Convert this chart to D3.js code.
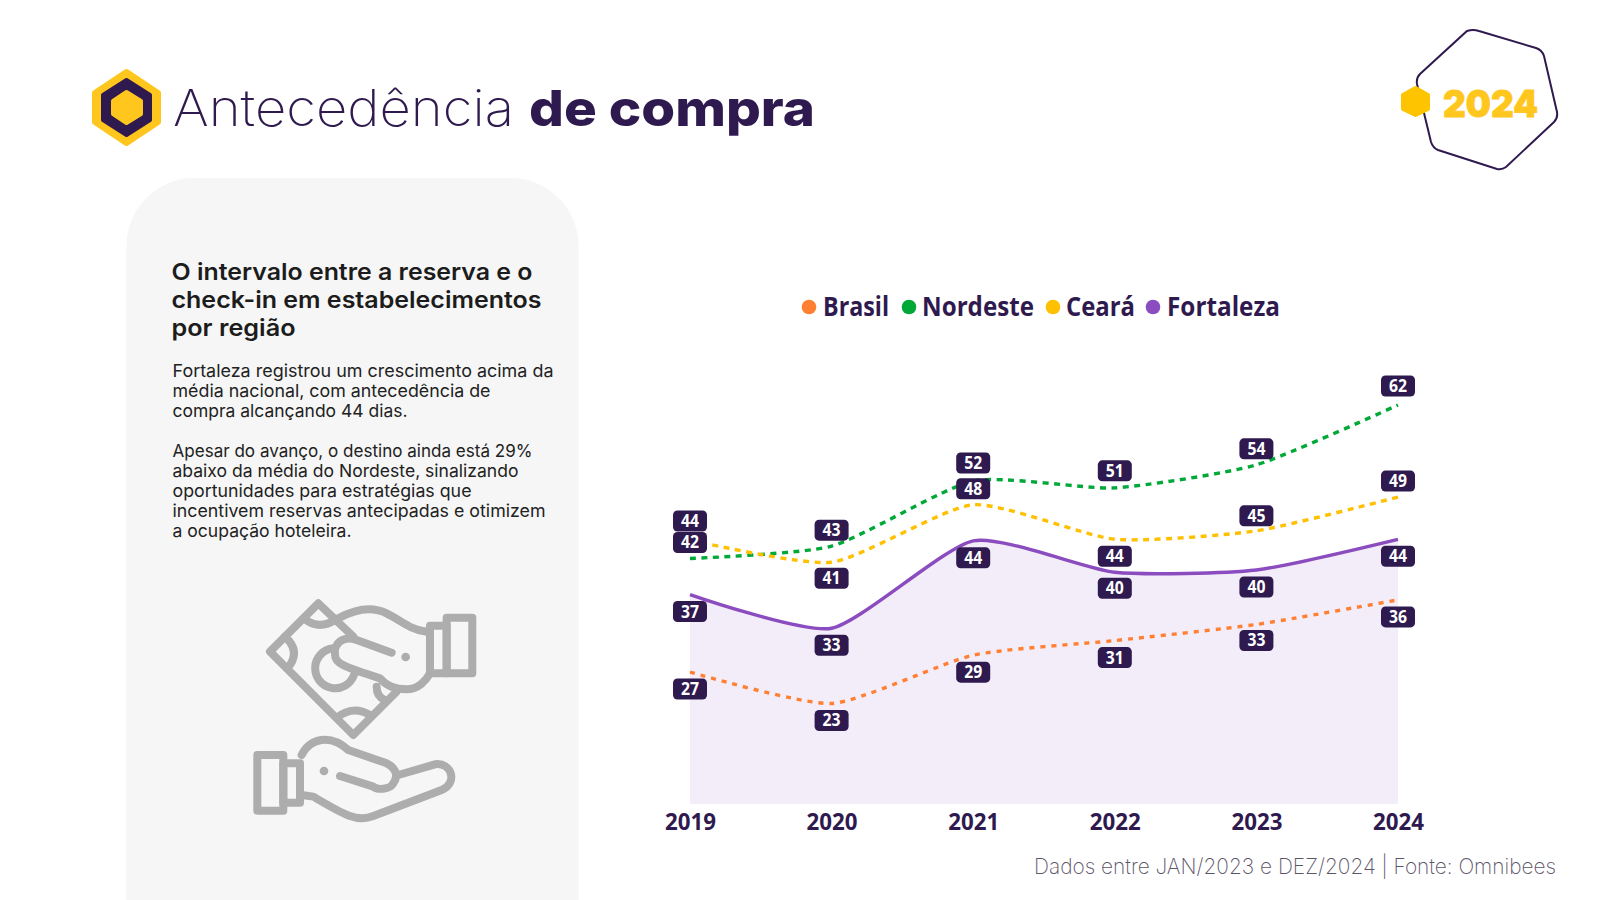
<!DOCTYPE html>
<html lang="pt-BR"><head><meta charset="utf-8">
<script src="https://cdn.jsdelivr.net/npm/d3@7/dist/d3.min.js"></script>
<style>html,body{margin:0;background:#fff;overflow:hidden}svg{display:block}</style>
</head><body><svg id="c" width="1600" height="900" xmlns="http://www.w3.org/2000/svg"></svg>
<script>
// ---- data ----
const years = ["2019","2020","2021","2022","2023","2024"];
const brasil    = [27.2,23.1,29.4,31.3,33.4,36.6];
const nordeste  = [42.0,43.6,52.1,51.2,54.2,62.0];
const ceara     = [44.4,41.5,49.0,44.5,45.6,50.0];
const fortaleza = [37.3,32.9,44.3,40.2,40.5,44.5];
const brasilLabels    = [27,23,29,31,33,36];
const nordesteLabels  = [42,43,52,51,54,62];
const cearaLabels     = [44,41,48,44,45,49];
const fortalezaLabels = [37,33,44,40,40,44];
const legendNames = ["Brasil","Nordeste","Ceará","Fortaleza"];
const headingLines = ["O intervalo entre a reserva e o","check-in em estabelecimentos","por região"];
const bodyLines = ["Fortaleza registrou um crescimento acima da","média nacional, com antecedência de","compra alcançando 44 dias.","",
 "Apesar do avanço, o destino ainda está 29%","abaixo da média do Nordeste, sinalizando","oportunidades para estratégias que","incentivem reservas antecipadas e otimizem","a ocupação hoteleira."];
const source = "Dados entre JAN/2023 e DEZ/2024 | Fonte: Omnibees";

// ---- layout ----
const DARK="#2f1a4f", YEL="#ffc61e", LABELFONT="'Open Sans',sans-serif", MAIN="Inter,sans-serif";
const headingW=[361,370,124];
const bodyW=[381,318,235,0,360,346,299,373,179];
const legendX=[{dot:809,t:823,w:66},{dot:909,t:922,w:112},{dot:1053,t:1066,w:69},{dot:1153,t:1167,w:113}];
const svg=d3.select("#c");
const fit=(sel,w)=>sel.attr("textLength",w).attr("lengthAdjust","spacingAndGlyphs");

// panel
svg.append("rect").attr("x",126.5).attr("y",178).attr("width",452).attr("height",900).attr("rx",68).attr("fill","#f6f6f6");

// logo
const hex=(pts,fill,sw=4)=>svg.append("polygon").attr("points",pts.map(p=>p.join(",")).join(" ")).attr("fill",fill).attr("stroke",fill).attr("stroke-width",sw).attr("stroke-linejoin","round");
hex([[126.5,72],[158,93],[158,122],[126.5,143],[95,122],[95,93]],YEL,6);
hex([[126.5,80],[150,95],[150,120],[126.5,135],[103,120],[103,95]],DARK);
hex([[126.5,92],[141,101],[141,114],[126.5,123],[113,114],[113,101]],YEL);

// title
fit(svg.append("text").attr("x",173).attr("y",126).attr("font-family",MAIN).attr("font-weight",200).attr("font-size",50).attr("fill",DARK).text("Antecedência"),341);
fit(svg.append("text").attr("x",529).attr("y",126).attr("font-family",MAIN).attr("font-weight",800).attr("font-size",50).attr("fill",DARK).text("de compra"),286);

// year badge
svg.append("path").attr("d","M1467,31 Q1473,29 1479,31 L1536,48 Q1542,50 1544,56 L1557,112 Q1558,118 1554,122 L1506,167 Q1502,170 1497,169 L1438,150 Q1433,148 1431,142 L1417,84 Q1416,78 1420,74 Z").attr("fill","#fff").attr("stroke",DARK).attr("stroke-width",2);
hex([[1415.5,88],[1428,95],[1428,109],[1415.5,115],[1403,109],[1403,95]],"#ffc400");
fit(svg.append("text").attr("x",1443).attr("y",117).attr("font-family",MAIN).attr("font-weight",900).attr("font-size",37).attr("fill",YEL).attr("stroke",YEL).attr("stroke-width",0.8).text("2024"),95);

// panel text
headingLines.forEach((s,i)=>fit(svg.append("text").attr("x",171.5).attr("y",280+i*28).attr("font-family",MAIN).attr("font-weight",600).attr("font-size",23.5).attr("fill","#1c1c1c").text(s),headingW[i]));
bodyLines.forEach((s,i)=>{ if(!s) return; fit(svg.append("text").attr("x",172.5).attr("y",377+i*20).attr("font-family",MAIN).attr("font-weight",400).attr("font-size",17.5).attr("fill","#222").text(s),bodyW[i]);});

// hands icon
const ic=svg.append("g").attr("transform","translate(230,580) scale(0.3333)").attr("fill","none").attr("stroke","#adadad").attr("stroke-width",24).attr("stroke-linecap","round").attr("stroke-linejoin","round");
["M370,170 L265,70 L120,215 L370,465 L500,335",
 "M228,120 Q270,150 318,118","M165,170 Q210,210 180,255","M322,412 Q370,375 420,405","M440,320 Q440,350 465,360",
 "M310,205 A60,60 0 1 0 372,285",
 "M325,115 C380,85 430,80 470,100 C510,120 540,150 590,155",
 "M485,218 L380,180 C340,165 310,190 315,225 C315,250 340,260 450,295 C470,320 500,328 530,328 C565,328 590,300 600,280",
 "M600,137 H650 V280 H600 Z","M650,113 H727 V280 H650 Z",
 "M82,525 H160 V692 H82 Z","M160,550 H210 V668 H160 Z",
 "M215,525 C240,475 300,460 355,510 L470,550 C500,565 505,590 490,610 C480,630 440,630 430,620 L330,588",
 "M505,585 L615,553 C665,545 685,610 635,630 L430,708 C380,728 340,703 250,650 L215,645"
].forEach(d=>ic.append("path").attr("d",d));
[[527,231],[282,573]].forEach(p=>ic.append("circle").attr("cx",p[0]).attr("cy",p[1]).attr("r",13).attr("fill","#adadad").attr("stroke","none"));

// chart
const x=d3.scalePoint().domain(years).range([690,1398]);
const y=d3.scaleLinear().domain([10,62]).range([804,405]);
const curve=d3.curveCardinal.tension(0.4);
const line=d3.line().x((d,i)=>x(years[i])).y(d=>y(d)).curve(curve);
const area=d3.area().x((d,i)=>x(years[i])).y0(y(10)).y1(d=>y(d)).curve(curve);
svg.append("path").attr("d",area(fortaleza)).attr("fill","#f3edf9");
const series=[
 {v:brasil,l:brasilLabels,c:"#ff8033",dash:"5 6",off:[17,17,17,17,16,17]},
 {v:nordeste,l:nordesteLabels,c:"#00a838",dash:"6 5.5",off:[-16,-16,-18,-17,-16,-19]},
 {v:ceara,l:cearaLabels,c:"#ffc000",dash:"6 5.5",off:[-19,16,-16,17,-15,-16]},
 {v:fortaleza,l:fortalezaLabels,c:"#8b4cbf",dash:null,off:[17,17,17,16,17,17]}];
series.forEach(s=>{
  svg.append("path").attr("d",line(s.v)).attr("fill","none").attr("stroke",s.c).attr("stroke-width",3.4).attr("stroke-dasharray",s.dash);
});
series.forEach(s=>{
  const g=svg.append("g").selectAll("g").data(s.v).join("g").attr("transform",(d,i)=>`translate(${x(years[i])},${y(d)+s.off[i]})`);
  g.append("rect").attr("x",-17).attr("y",-10.5).attr("width",34).attr("height",21).attr("rx",4.5).attr("fill",DARK);
  fit(g.append("text").attr("text-anchor","middle").attr("y",6).attr("font-family",LABELFONT).attr("font-weight",700).attr("font-size",17).attr("fill","#fff").text((d,i)=>s.l[i]),18);
});

// x axis
const ax=svg.append("g").attr("transform","translate(0,804)").call(d3.axisBottom(x).tickSize(0).tickPadding(6));
ax.select(".domain").remove();
ax.selectAll("text").attr("font-family",LABELFONT).attr("font-weight",700).attr("font-size",24).attr("fill",DARK).attr("dy",0).attr("y",26).attr("textLength",51).attr("lengthAdjust","spacingAndGlyphs");

// legend
legendNames.forEach((n,i)=>{
  svg.append("circle").attr("cx",legendX[i].dot).attr("cy",307).attr("r",7.3).attr("fill",series[i].c);
  fit(svg.append("text").attr("x",legendX[i].t).attr("y",316).attr("font-family",LABELFONT).attr("font-weight",700).attr("font-size",26.5).attr("fill",DARK).text(n),legendX[i].w);
});

// source
fit(svg.append("text").attr("x",1034).attr("y",874).attr("font-family",MAIN).attr("font-weight",200).attr("font-size",21.5).attr("fill","#5c5468").text(source),522);
</script></body></html>
